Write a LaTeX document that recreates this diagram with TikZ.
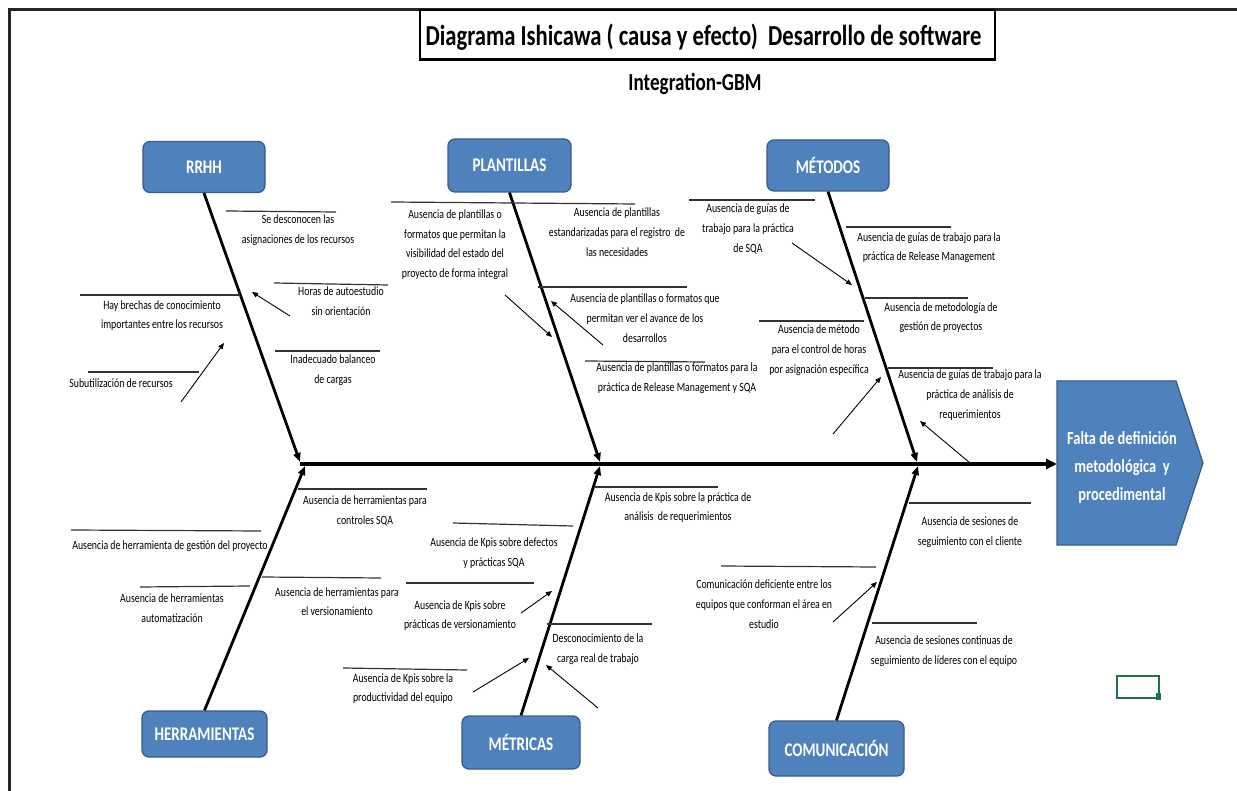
\documentclass[tikz,border=0pt]{standalone}
\usepackage{fontspec}
\setmainfont{Carlito}[FakeStretch=0.78]
\usetikzlibrary{arrows.meta}
\definecolor{boxblue}{HTML}{4F81BD}
\definecolor{boxedge}{HTML}{385D8A}
\definecolor{cellgreen}{HTML}{217346}
\begin{document}
\begin{tikzpicture}[x=1pt,y=-1pt,
  cat/.style={draw=boxedge, line width=1.3pt, fill=boxblue, rounded corners=7pt,
    text=white, inner sep=0, font=\fontsize{19.3}{21}\selectfont\bfseries},
  lbl/.style={align=center, inner sep=0, font=\fontsize{12.6}{19.7}\selectfont,
    execute at begin node=\strut, execute at end node=\strut},
  bone/.style={line width=2.8pt, -{Triangle[length=9pt,width=7pt]}},
  spine/.style={line width=4pt, -{Triangle[length=11pt,width=10pt]}},
  leader/.style={line width=1.2pt, black!80},
  cue/.style={line width=0.9pt, -{Triangle[length=6pt,width=5pt]}}]

% canvas
\fill[white] (0,0) rectangle (1237,791);
\useasboundingbox (0,0) rectangle (1237,791);
\draw[line width=2.5pt, black!85] (1237,9.5) -- (9.5,9.5) -- (9.5,791);

% heading
\node[draw, line width=1.2pt, minimum width=575, minimum height=49, inner sep=0] (titlebox) at (707.5,34.5) {};
\draw[line width=2.6pt] (titlebox.south west) -- (titlebox.south east);
\node[font=\fontsize{29}{32}\selectfont\bfseries, inner sep=0] (title) at (703.5,37)
  {Diagrama Ishicawa ( causa y efecto)\ \ Desarrollo de software};
\node[font=\fontsize{24.5}{27}\selectfont\bfseries, inner sep=0] (sub) at (695,84) {Integration-GBM};

% effect
\draw[draw=boxedge, line width=1.3pt, fill=boxblue]
  (1057,381) -- (1176,381) -- (1203,463) -- (1176,545) -- (1057,545) -- cycle;
\node[align=center, text=white, inner sep=0, font=\fontsize{18.5}{28}\selectfont\bfseries]
  (effect) at (1122,467) {Falta de definición\\metodológica\ \ y\\procedimental};

% spine
\coordinate (tail) at (300,464);
\coordinate (head) at (1057,464);
\draw[spine] (tail) -- (head);

% category boxes
\node[cat, minimum width=122, minimum height=51] (rrhh) at (204,167) {RRHH};
\node[cat, minimum width=123, minimum height=53] (plant) at (509.5,165.5) {PLANTILLAS};
\node[cat, minimum width=122, minimum height=51] (metod) at (828,165.5) {MÉTODOS};
\node[cat, minimum width=125, minimum height=46] (herr) at (204.5,734) {HERRAMIENTAS};
\node[cat, minimum width=118, minimum height=53] (metr) at (521,742.5) {MÉTRICAS};
\node[cat, minimum width=135, minimum height=55] (comu) at (836.5,748.5) {COMUNICACIÓN};

% bones
\coordinate (rrhhE) at (300,462);
\coordinate (plantE) at (600,462);
\coordinate (metodE) at (917,462);
\coordinate (herrE) at (305,466);
\coordinate (metrE) at (600,466);
\coordinate (comuE) at (918,466);
\draw[bone] (rrhh.south) -- (rrhhE);
\draw[bone] (plant.south) -- (plantE);
\draw[bone] (metod.south) -- (metodE);
\draw[bone] (herr.north) -- (herrE);
\draw[bone] (metr.north) -- (metrE);
\draw[bone] (comu.north) -- (comuE);

% ---- RRHH causes
\draw[leader] (226,211) -- (336,212);
\node[lbl] (r1) at (298,232) {Se desconocen las\\asignaciones de los recursos};
\draw[leader] (274,283) -- (388,285);
\node[lbl] (r2) at (341,304) {Horas de autoestudio\\sin orientación};
\draw[leader] (80,295) -- (240,295);
\node[lbl] (r3) at (162,317.5) {Hay brechas de conocimiento\\importantes entre los recursos};
\draw[leader] (275,351) -- (380,351);
\node[lbl] (r4) at (333,372) {Inadecuado balanceo\\de cargas};
\draw[leader] (88,372) -- (199,372);
\node[lbl] (r5) at (121,384) {Subutilización de recursos};
\coordinate (r2a) at (290,316); \coordinate (r2b) at (252,292);
\draw[cue] (r2a) -- (r2b);
\coordinate (r5a) at (181,402); \coordinate (r5b) at (224,343);
\draw[cue] (r5a) -- (r5b);

% ---- PLANTILLAS causes
\draw[leader] (391,202) -- (635,204);
\node[lbl] (p1) at (455,246.5) {Ausencia de plantillas o\\formatos que permitan la\\visibilidad del estado del\\proyecto de forma integral};
\node[lbl] (p2) at (617,235) {Ausencia de plantillas\\estandarizadas para el registro\ \ de\\las necesidades};
\draw[leader] (538,287) -- (687,287);
\node[lbl] (p3) at (645,321) {Ausencia de plantillas o formatos que\\permitan ver el avance de los\\desarrollos};
\draw[leader] (585,361) -- (705,362);
\node[lbl] (p4) at (677,380) {Ausencia de plantillas o formatos para la\\práctica de Release Management y SQA};
\coordinate (p1a) at (505,295); \coordinate (p1b) at (552,337);
\draw[cue] (p1a) -- (p1b);
\coordinate (p3a) at (603,345); \coordinate (p3b) at (551,301);
\draw[cue] (p3a) -- (p3b);

% ---- MÉTODOS causes
\draw[leader] (689,200) -- (815,200);
\node[lbl] (m1) at (748,231) {Ausencia de guías de\\trabajo para la práctica\\de SQA};
\draw[leader] (846,227) -- (951,227);
\node[lbl] (m2) at (929,249.5) {Ausencia de guías de trabajo para la\\práctica de Release Management};
\draw[leader] (865,298) -- (968,298);
\node[lbl] (m3) at (941,319.5) {Ausencia de metodología de\\gestión de proyectos};
\draw[leader] (759,321) -- (864,321);
\node[lbl] (m4) at (819,352) {Ausencia de método\\para el control de horas\\por asignación específica};
\draw[leader] (888,368) -- (993,368);
\node[lbl] (m5) at (970,397) {Ausencia de guías de trabajo para la\\práctica de análisis de\\requerimientos};
\coordinate (m1a) at (792,243); \coordinate (m1b) at (852,285);
\draw[cue] (m1a) -- (m1b);
\coordinate (m4a) at (833,434); \coordinate (m4b) at (881,377);
\draw[cue] (m4a) -- (m4b);
\coordinate (m5a) at (970,463); \coordinate (m5b) at (920,421);
\draw[cue] (m5a) -- (m5b);

% ---- HERRAMIENTAS causes
\draw[leader] (298,489) -- (427,489);
\node[lbl] (h1) at (365,513) {Ausencia de herramientas para\\controles SQA};
\draw[leader] (71,530) -- (261,531);
\node[lbl] (h2) at (170,546) {Ausencia de herramienta de gestión del proyecto};
\draw[leader] (262,577) -- (381,578);
\node[lbl] (h3) at (337,604.5) {Ausencia de herramientas para\\el versionamiento};
\draw[leader] (140,587) -- (250,586);
\node[lbl] (h4) at (172,611) {Ausencia de herramientas\\automatización};

% ---- MÉTRICAS causes
\draw[leader] (595,487) -- (718,487);
\node[lbl] (k1) at (678,509.5) {Ausencia de Kpis sobre la práctica de\\análisis\ \ de requerimientos};
\draw[leader] (453,523) -- (573,526);
\node[lbl] (k2) at (494,555) {Ausencia de Kpis sobre defectos\\y prácticas SQA};
\draw[leader] (406,583) -- (534,583);
\node[lbl] (k3) at (460,617.5) {Ausencia de Kpis sobre\\prácticas de versionamiento};
\draw[leader] (547,624) -- (652,624);
\node[lbl] (k4) at (598,651) {Desconocimiento de la\\carga real de trabajo};
\draw[leader] (343,668) -- (467,670);
\node[lbl] (k5) at (403,690.5) {Ausencia de Kpis sobre la\\productividad del equipo};
\coordinate (k3a) at (521,613); \coordinate (k3b) at (552,591);
\draw[cue] (k3a) -- (k3b);
\coordinate (k4a) at (598,708); \coordinate (k4b) at (546,665);
\draw[cue] (k4a) -- (k4b);
\coordinate (k5a) at (473,692); \coordinate (k5b) at (529,658);
\draw[cue] (k5a) -- (k5b);

% ---- COMUNICACIÓN causes
\draw[leader] (909,503) -- (1031,503);
\node[lbl] (c1) at (970,534) {Ausencia de sesiones de\\seguimiento con el cliente};
\draw[leader] (721,566) -- (876,567);
\node[lbl] (c2) at (764,607) {Comunicación deficiente entre los\\equipos que conforman el área en\\estudio};
\draw[leader] (872,623) -- (977,623);
\node[lbl] (c3) at (944,653) {Ausencia de sesiones continuas de\\seguimiento de líderes con el equipo};
\coordinate (c2a) at (833,622); \coordinate (c2b) at (877,582);
\draw[cue] (c2a) -- (c2b);

% selected cell marker
\draw[cellgreen, line width=1.6pt] (1117,676) rectangle (1159,698);
\fill[cellgreen] (1155.5,693) rectangle (1161,700);
\end{tikzpicture}
\end{document}
